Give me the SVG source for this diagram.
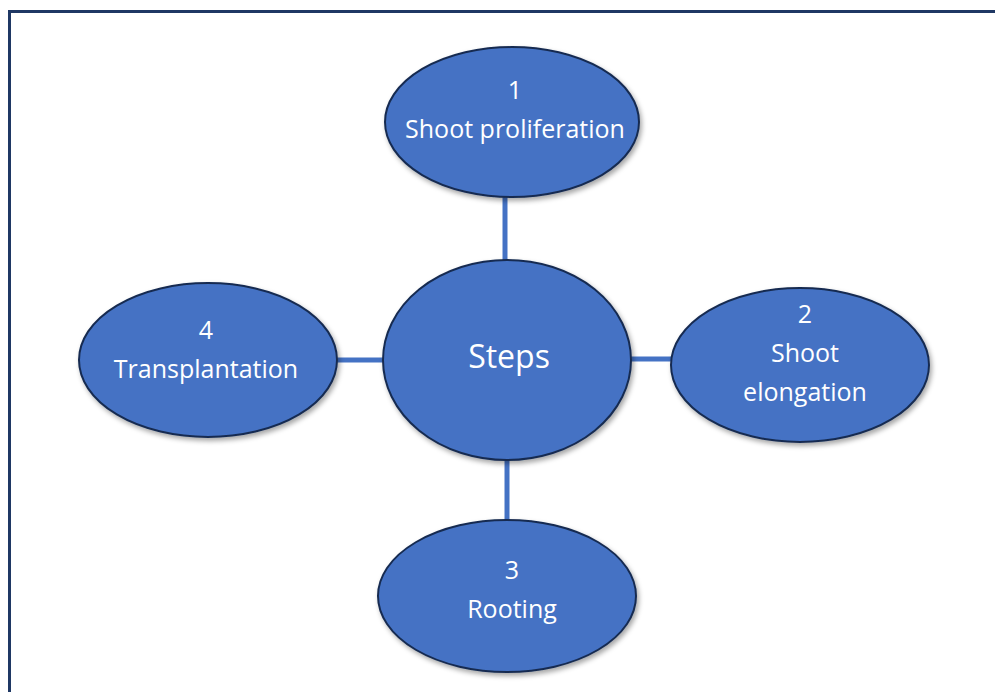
<svg xmlns="http://www.w3.org/2000/svg" width="995" height="692" viewBox="0 0 995 692">
<defs>
<filter id="sh" x="-10%" y="-10%" width="125%" height="130%">
<feDropShadow dx="2" dy="3" stdDeviation="2.5" flood-color="#000" flood-opacity="0.35"/>
</filter>
<style>
.node ellipse{fill:#4472C4;stroke:#172C51;stroke-width:2;filter:url(#sh);}
.node text{fill:#ffffff;font-family:"Open Sans","Liberation Sans",sans-serif;font-size:25px;text-anchor:middle;}
.conn line{stroke:#4472C4;stroke-width:5;}
</style>
</defs>
<rect x="0" y="0" width="995" height="692" fill="#ffffff"/>
<rect x="9.5" y="11.5" width="1000" height="700" fill="none" stroke="#1F3864" stroke-width="3"/>
<g id="connectors" class="conn">
<line x1="505" y1="196" x2="505" y2="262"/>
<line x1="507" y1="458" x2="507" y2="522"/>
<line x1="335" y1="360" x2="385" y2="360"/>
<line x1="628" y1="359" x2="673" y2="359"/>
</g>
<g id="n-center" class="node">
<ellipse cx="507" cy="360" rx="124" ry="100"/>
<text x="509" y="368" style="font-size:32px">Steps</text>
</g>
<g id="n1" class="node">
<ellipse cx="512" cy="122" rx="127" ry="75"/>
<text x="515" y="99">1</text>
<text x="515" y="138">Shoot proliferation</text>
</g>
<g id="n2" class="node">
<ellipse cx="800" cy="365" rx="129" ry="77"/>
<text x="805" y="323">2</text>
<text x="805" y="362">Shoot</text>
<text x="805" y="401">elongation</text>
</g>
<g id="n3" class="node">
<ellipse cx="507" cy="596" rx="129" ry="76"/>
<text x="512" y="579">3</text>
<text x="512" y="618">Rooting</text>
</g>
<g id="n4" class="node">
<ellipse cx="208" cy="360" rx="129" ry="77"/>
<text x="206" y="339">4</text>
<text x="206" y="378">Transplantation</text>
</g>
</svg>
